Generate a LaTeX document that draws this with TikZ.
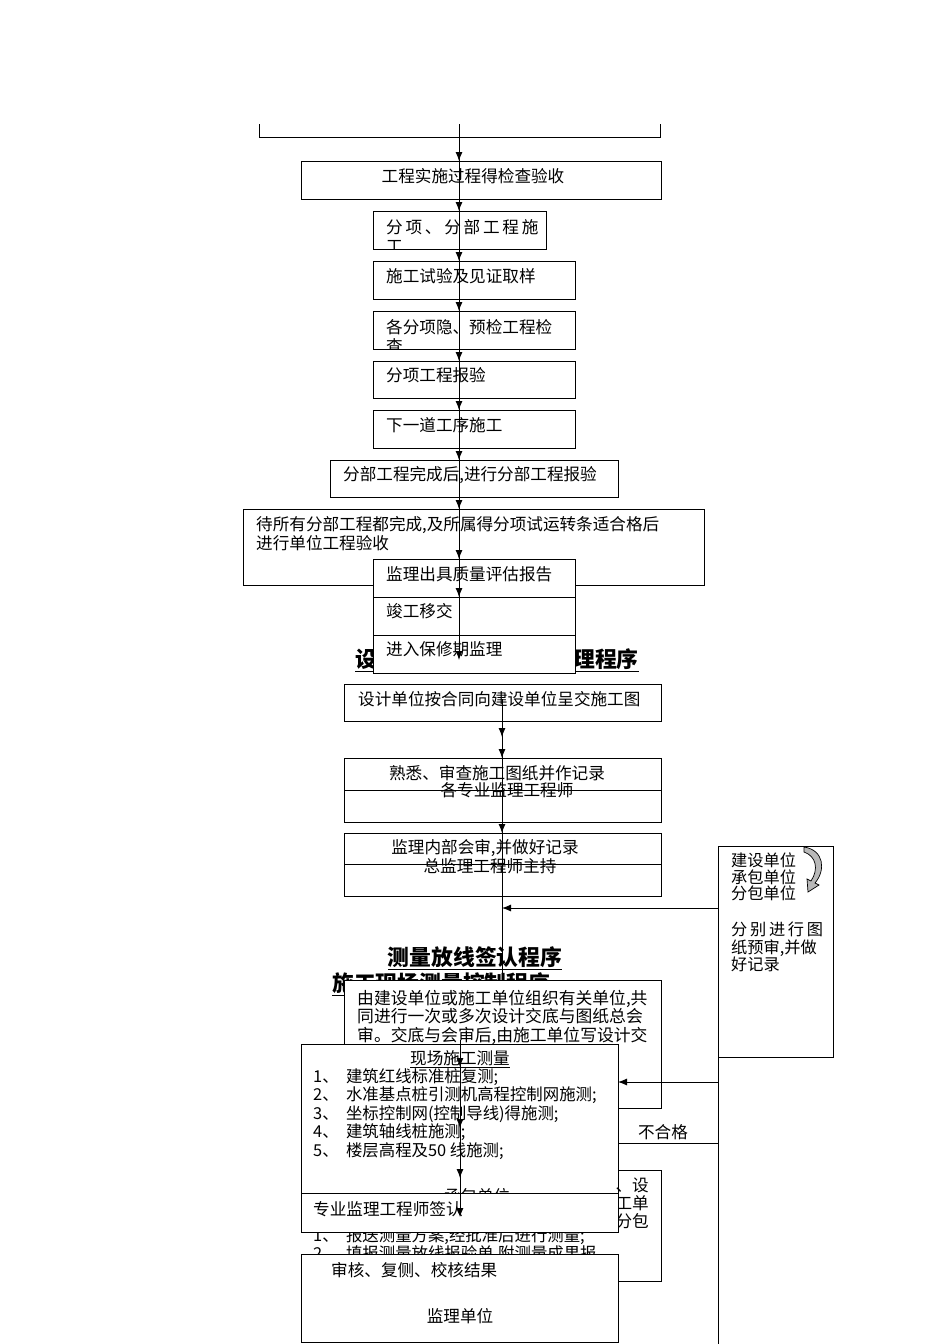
\documentclass[tikz,border=0pt]{standalone}
\usepackage{fontspec}
\setmainfont{Noto Sans CJK SC}
\usetikzlibrary{arrows.meta}
\newcommand{\fsn}{\fontsize{16.6}{18}\selectfont}
\newcommand{\fst}{\fontsize{21.8}{22}\selectfont\bfseries}
\tikzset{
 box/.style={draw,line width=0.9pt},
 wbox/.style={draw,fill=white,line width=0.9pt},
 txt/.style={anchor=west,inner sep=0pt,font=\fsn},
 ctxt/.style={inner sep=0pt,font=\fsn},
 ttl/.style={inner sep=0pt,font=\fst},
 arr/.style={line width=0.9pt,-{Latex[length=9pt,width=7pt]}},
 ln/.style={line width=0.9pt}
}
\begin{document}
\begin{tikzpicture}[x=1pt,y=-1pt]
\useasboundingbox[fill=white] (0,0) rectangle (950,1344);
% ---------- upper chain ----------
\draw[ln] (259,124) -- (259,137) -- (660,137) -- (660,124);
\draw[box] (301,161) rectangle (661,199);
\node[ctxt] (b1) at (473,176) {工程实施过程得检查验收};
\draw[box] (373,211) rectangle (546,249);
\begin{scope}
\clip (373,211) rectangle (546,249);
\node[txt,align=left,font=\fontsize{16.6}{19}\selectfont] (b2) at (386,236) {分\,项\,、\,分\,部\,工\,程\,施\\工};
\end{scope}
\draw[box] (373,261) rectangle (575,299);
\node[txt] (b3) at (386,276) {施工试验及见证取样};
\draw[box] (373,311) rectangle (575,349);
\begin{scope}
\clip (373,311) rectangle (575,349);
\node[txt,align=left,font=\fontsize{16.6}{19}\selectfont] (b4) at (386,336) {各分项隐、预检工程检\\查};
\end{scope}
\draw[box] (373,361) rectangle (575,398);
\node[txt] (b5) at (386,375) {分项工程报验};
\draw[box] (373,410) rectangle (575,448);
\node[txt] (b6) at (386,425) {下一道工序施工};
\draw[box] (330,460) rectangle (618,497);
\node[txt] (b7) at (343,475) {分部工程完成后,进行分部工程报验};
\draw[box] (243,509) rectangle (704,585);
\node[txt] (b8a) at (256,525) {待所有分部工程都完成,及所属得分项试运转条适合格后};
\node[txt] (b8b) at (256,543) {进行单位工程验收};
% title behind box
\node[ttl] (t1) at (497,660) {\underline{设计交底与图纸会审监理程序}};
\draw[wbox] (373,559) rectangle (575,673);
\draw[ln] (373,597) -- (575,597);
\draw[ln] (373,635) -- (575,635);
\node[txt] (b9) at (386,574) {监理出具质量评估报告};
\node[txt] (b10) at (386,611) {竣工移交};
\node[txt] (b11) at (386,649) {进入保修期监理};
% main upper vertical
\draw[ln] (459,124) -- (459,650);
\foreach \y in {161,211,261,311,361,410,460,509,559,597,660}
  \draw[arr] (459,\y-12) -- (459,\y);
% ---------- design drawing chain ----------
\draw[box] (344,684) rectangle (661,721);
\node[txt] (c1) at (358,699) {设计单位按合同向建设单位呈交施工图};
\draw[box] (344,758) rectangle (661,822);
\draw[ln] (344,790) -- (661,790);
\node[ctxt] (c2) at (497,773) {熟悉、审查施工图纸并作记录};
\node[ctxt] (c2b) at (507,790) {各专业监理工程师};
\draw[box] (344,833) rectangle (661,896);
\draw[ln] (344,864) -- (661,864);
\node[ctxt] (c3) at (485,848) {监理内部会审,并做好记录};
\node[ctxt] (c3b) at (490,866) {总监理工程师主持};
\draw[ln] (502,699) -- (502,980);
\foreach \y in {737,758,833,990}
  \draw[arr] (502,\y-12) -- (502,\y);
% right box
\draw[box] (718,846) rectangle (833,1057);
\node[txt,align=left,font=\fontsize{16.2}{16.5}\selectfont] (r1) at (731,877) {建设单位\\承包单位\\分包单位};
\node[txt,align=left,font=\fontsize{16.2}{17.5}\selectfont] (r2) at (731,947) {分\,别\,进\,行\,图\\纸预审,并做\\好记录};
\filldraw[fill=gray!55,line width=0.7pt] (804,847) .. controls (824,850) and (826,870) .. (815,883)
  -- (819,885) -- (808,892) -- (807,879) -- (811,881)
  .. controls (819,869) and (816,856) .. (804,852) -- cycle;
\draw[arr] (718,908) -- (502,908);
\draw[ln] (718,1057) -- (718,1344);
% ---------- survey ----------
\node[ttl] (t2) at (475,958) {\underline{测量放线签认程序}};
\node[ttl,anchor=west] (t3) at (332,984) {\underline{施工现场测量控制程序}};
\draw[wbox] (344,980) rectangle (661,1108);
\node[txt,align=left,font=\fontsize{16.8}{18.5}\selectfont] (d1) at (357,1017) {由建设单位或施工单位组织有关单位,共\\同进行一次或多次设计交底与图纸总会\\审。交底与会审后,由施工单位写设计交};
\draw[wbox] (301,1044) rectangle (618,1193);
\node[ctxt] (s0) at (460,1059) {\underline{现场施工测量}};
\node[txt,align=left,font=\fontsize{16.4}{18.5}\selectfont] (s1) at (313,1114) {1、\ \ 建筑红线标准桩复测;\\2、\ \ 水准基点桩引测机高程控制网施测;\\3、\ \ 坐标控制网(控制导线)得施测;\\4、\ \ 建筑轴线桩施测;\\5、\ \ 楼层高程及50 线施测;};
\draw[arr] (718,1082) -- (618,1082);
\draw[ln] (618,1143) -- (718,1143);
\node[ctxt] (ng) at (663,1132) {不合格};
% contractor box (behind)
\draw[box] (618,1170) -- (661,1170) -- (661,1281) -- (618,1281);
\node[ctxt] (p0) at (477,1196) {承包单位};
\node[ctxt,anchor=east] (p1) at (649,1185) {、设};
\node[ctxt,anchor=east] (p2) at (649,1203) {工单};
\node[ctxt,anchor=east] (p3) at (649,1221) {分包};
\begin{scope}
\clip (301,1232) rectangle (618,1254);
\node[txt,align=left,font=\fontsize{16.4}{17}\selectfont] (p4) at (313,1245) {1、\ \ 报送测量方案,经批准后进行测量;\\2、\ \ 填报测量放线报验单,附测量成果报};
\end{scope}
\draw[wbox] (301,1193) rectangle (618,1232);
\node[txt] (s2) at (313,1209) {专业监理工程师签认};
\draw[wbox] (301,1254) rectangle (618,1342);
\node[txt] (s3) at (331,1270) {审核、复侧、校核结果};
\node[ctxt] (s4) at (460,1316) {监理单位};
\draw[ln] (460,1040) -- (460,1205);
\foreach \y in {1067,1128,1178,1217}
  \draw[arr] (460,\y-12) -- (460,\y);
\end{tikzpicture}
\end{document}
